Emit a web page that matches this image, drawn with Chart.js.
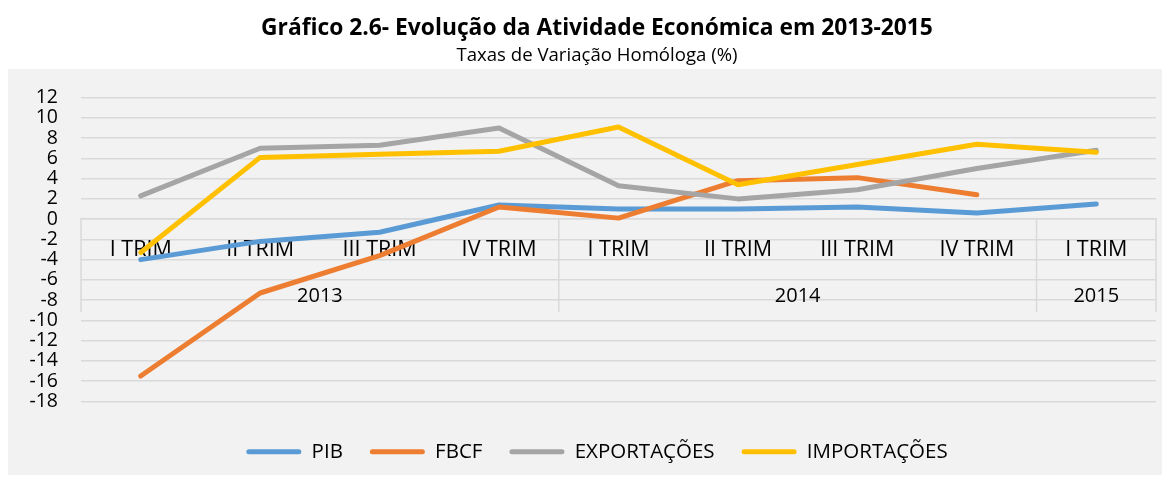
<!DOCTYPE html>
<html>
<head>
<meta charset="utf-8">
<script src="https://cdn.jsdelivr.net/npm/chart.js@4.4.1/dist/chart.umd.min.js"></script>
<style>
    html, body { margin: 0; padding: 0; background: #fff; }
    #wrap { width: 1170px; height: 483px; }
</style>
</head>
<body>
<div id="wrap"><canvas id="atividadeChart"></canvas></div>
<script>
// 數據
const quarters = ['I TRIM', 'II TRIM', 'III TRIM', 'IV TRIM', 'I TRIM', 'II TRIM', 'III TRIM', 'IV TRIM', 'I TRIM'];
const years = ['2013', '2014', '2015'];
const yearSpans = [4, 4, 1];

const pib = [-4.0, -2.2, -1.3, 1.4, 1.0, 1.0, 1.2, 0.6, 1.5];
const fbcf = [-15.5, -7.3, -3.6, 1.2, 0.1, 3.8, 4.1, 2.4, null];
const exportacoes = [2.3, 7.0, 7.3, 9.0, 3.3, 2.0, 2.9, 5.0, 6.8];
const importacoes = [-3.3, 6.1, 6.4, 6.7, 9.1, 3.4, 5.4, 7.4, 6.6];

const FONT = "'Open Sans', sans-serif";

// 灰色背景面板
const panelPlugin = {
    id: 'panel',
    beforeDraw(chart) {
        const ctx = chart.ctx;
        ctx.save();
        ctx.fillStyle = '#f2f2f2';
        ctx.fillRect(8, 69, 1154, 406);
        ctx.restore();
    }
};

// 年份分組標籤與分隔線
const yearGroupPlugin = {
    id: 'yearGroups',
    beforeDatasetsDraw(chart) {
        const { ctx, chartArea, scales: { x, y } } = chart;
        const y0 = y.getPixelForValue(0);
        const yEnd = y0 + 93;
        const half = (x.getPixelForValue(1) - x.getPixelForValue(0)) / 2;

        ctx.save();
        ctx.strokeStyle = '#d9d9d9';
        ctx.lineWidth = 1.5;
        ctx.fillStyle = '#000';
        ctx.font = `20px ${FONT}`;
        ctx.textAlign = 'center';
        ctx.textBaseline = 'middle';

        let start = 0;
        const edges = [chartArea.left];
        years.forEach((label, i) => {
            const end = start + yearSpans[i] - 1;
            const cx = (x.getPixelForValue(start) + x.getPixelForValue(end)) / 2;
            ctx.fillText(label, cx, y0 + 77);
            edges.push(x.getPixelForValue(end) + half);
            start = end + 1;
        });
        edges.forEach(ex => {
            ctx.beginPath();
            ctx.moveTo(ex, y0);
            ctx.lineTo(ex, yEnd);
            ctx.stroke();
        });
        ctx.restore();
    }
};

function makeSet(label, data, color, order) {
    return {
        label,
        data,
        borderColor: color,
        backgroundColor: color,
        borderWidth: 5,
        borderCapStyle: 'round',
        borderJoinStyle: 'round',
        pointRadius: 0,
        tension: 0,
        order
    };
}

new Chart(document.getElementById('atividadeChart'), {
    type: 'line',
    data: {
        labels: quarters,
        datasets: [
            makeSet('PIB', pib, '#5b9bd5', 3),
            makeSet('FBCF', fbcf, '#ed7d31', 2),
            makeSet('EXPORTAÇÕES', exportacoes, '#a5a5a5', 1),
            makeSet('IMPORTAÇÕES', importacoes, '#ffc000', 0)
        ]
    },
    options: {
        responsive: true,
        maintainAspectRatio: false,
        animation: false,
        layout: { padding: { left: 29, right: 5, top: 0, bottom: 11 } },
        scales: {
            x: {
                position: { y: 0 },
                offset: true,
                grid: { display: false },
                border: { color: '#d9d9d9', width: 1.5 },
                ticks: {
                    color: '#000',
                    font: { family: FONT, size: 21.5 },
                    padding: 10,
                    maxRotation: 0,
                    autoSkip: false
                }
            },
            y: {
                min: -18,
                max: 12,
                afterFit: scale => { scale.width = 52; },
                grid: { color: '#d9d9d9', lineWidth: 1.5, drawTicks: false },
                border: { display: false },
                ticks: {
                    stepSize: 2,
                    autoSkip: false,
                    color: '#000',
                    padding: 23,
                    font: { family: FONT, size: 19.5 }
                }
            },
            // 右側留白用的空軸
            yRight: {
                position: 'right',
                afterFit: scale => { scale.width = 9; },
                grid: { display: false },
                border: { display: false },
                ticks: { display: false }
            }
        },
        plugins: {
            title: {
                display: true,
                text: 'Gráfico 2.6- Evolução da Atividade Económica em 2013-2015',
                color: '#000',
                font: { family: FONT, size: 22.8, weight: 'bold' },
                padding: { top: 15, bottom: 2 }
            },
            subtitle: {
                display: true,
                text: 'Taxas de Variação Homóloga (%)',
                color: '#000',
                font: { family: FONT, size: 18.6 },
                padding: { top: 0, bottom: 31 }
            },
            legend: {
                position: 'bottom',
                title: { display: true, text: ' ', font: { size: 1 }, padding: 6 },
                labels: {
                    color: '#000',
                    font: { family: FONT, size: 20.5 },
                    boxWidth: 55,
                    boxHeight: 5,
                    padding: 27,
                    useBorderRadius: true,
                    borderRadius: 2.5,
                    sort: (a, b) => a.datasetIndex - b.datasetIndex,
                    generateLabels: chart =>
                        Chart.defaults.plugins.legend.labels.generateLabels(chart)
                            .map(item => ({ ...item, lineWidth: 0, fillStyle: item.strokeStyle }))
                }
            },
            tooltip: { enabled: false }
        }
    },
    plugins: [panelPlugin, yearGroupPlugin]
});
</script>
</body>
</html>
